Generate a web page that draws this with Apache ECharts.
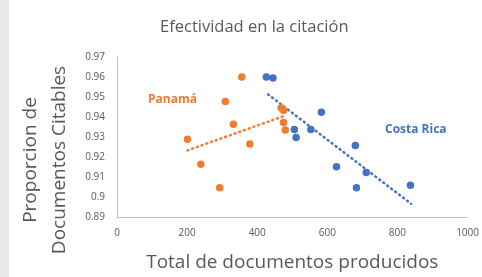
<!DOCTYPE html>
<html>
<head>
<meta charset="utf-8">
<script src="https://cdn.jsdelivr.net/npm/echarts@6/dist/echarts.min.js"></script>
<style>
  html, body { margin: 0; padding: 0; background: #fff; }
  #chart { width: 482px; height: 277px; }
</style>
</head>
<body>
<div id="chart"></div>
<script>
// datos
var panama = [
  [356, 0.960], [309, 0.9477], [332, 0.9364], [201, 0.9289], [379, 0.9265],
  [239, 0.9164], [293, 0.9046], [468, 0.9445], [475, 0.9434], [475, 0.9372], [480, 0.9335]
];
var costaRica = [
  [426, 0.9600], [445, 0.9595], [583, 0.9424], [506, 0.9337], [553, 0.9337],
  [511, 0.9297], [680, 0.9257], [626, 0.9151], [711, 0.9123], [683, 0.9046], [837, 0.9059]
];
var panamaTrend = [[201, 0.9233], [483, 0.9409]];
var costaRicaTrend = [[431, 0.9513], [839, 0.8966]];

var gray = '#595959';
var font = 'Open Sans';

var chart = echarts.init(document.getElementById('chart'));

var option = {
  backgroundColor: '#fff',
  animation: false,
  title: {
    text: 'Efectividad en la citación',
    left: 155,
    top: 14,
    textStyle: { color: gray, fontSize: 16.5, fontWeight: 'normal', fontFamily: font }
  },
  graphic: [
    { type: 'rect', left: 0, top: 0, shape: { width: 9, height: 277 }, style: { fill: '#e9e9e9' } },
    {
      type: 'text', left: 148, top: 94,
      style: { text: 'Panamá', fill: '#ED7D31', font: 'bold 12px "Open Sans"' }
    },
    {
      type: 'text', left: 385, top: 124,
      style: { text: 'Costa Rica', fill: '#4472C4', font: 'bold 12px "Open Sans"' }
    }
  ],
  grid: { left: 117, right: 10, top: 57, bottom: 54 },
  xAxis: {
    type: 'value',
    min: 0,
    max: 1000,
    interval: 200,
    name: 'Total de documentos producidos',
    nameLocation: 'middle',
    nameGap: 36,
    nameTextStyle: { color: gray, fontSize: 19, fontFamily: font },
    axisLine: { lineStyle: { color: '#bfbfbf', width: 1 } },
    axisTick: { show: false },
    splitLine: { show: false },
    axisLabel: {
      color: gray, fontSize: 10, margin: 11, fontFamily: font,
      formatter: function (v) { return String(v); }
    }
  },
  yAxis: {
    type: 'value',
    min: 0.89,
    max: 0.97,
    interval: 0.01,
    name: 'Proporcion de\nDocumentos Citables',
    nameLocation: 'middle',
    nameGap: 41,
    nameTextStyle: {
      color: gray, fontSize: 19, fontFamily: font, lineHeight: 29,
      padding: [0, 46, 0, 0]
    },
    axisLine: { show: true, lineStyle: { color: '#bfbfbf', width: 1 } },
    axisTick: { show: false },
    splitLine: { show: false },
    axisLabel: {
      color: gray, fontSize: 10, margin: 12, fontFamily: font,
      formatter: function (v) { return String(+v.toFixed(2)); }
    }
  },
  series: [
    {
      name: 'Panamá trend',
      type: 'line',
      data: panamaTrend,
      symbol: 'none',
      lineStyle: { color: '#ED7D31', width: 2.5, type: [1, 4], cap: 'round' },
      z: 1
    },
    {
      name: 'Costa Rica trend',
      type: 'line',
      data: costaRicaTrend,
      symbol: 'none',
      lineStyle: { color: '#4472C4', width: 2.5, type: [1, 4], cap: 'round' },
      z: 1
    },
    {
      name: 'Costa Rica',
      type: 'scatter',
      data: costaRica,
      symbolSize: 7.5,
      itemStyle: { color: '#4472C4', opacity: 1 },
      z: 2
    },
    {
      name: 'Panamá',
      type: 'scatter',
      data: panama,
      symbolSize: 7.5,
      itemStyle: { color: '#ED7D31', opacity: 1 },
      z: 3
    }
  ]
};

chart.setOption(option);
</script>
</body>
</html>
